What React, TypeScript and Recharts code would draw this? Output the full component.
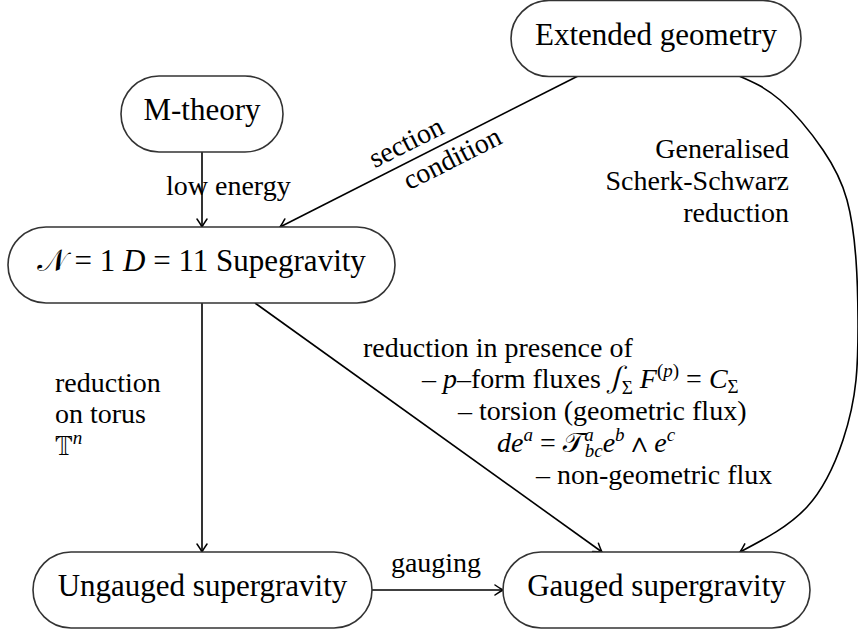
import React from 'react';
import { ComposedChart, XAxis, YAxis, Line, Scatter } from 'recharts';

const W = 858;
const H = 633;
const SERIF = '"Liberation Serif", monospace';
const MATH = '"FreeSerif", monospace';
const INK = '#000';
const BOX_H = 76;

// nodes: centre of each rounded box, page pixels (0,0 top left)
const nodeIds = ['ext', 'mth', 'sugra', 'ungauged', 'gauged'];
const nodeX = [656, 202, 201.5, 202.5, 656.5];
const nodeY = [38.5, 114, 265, 590, 590];
const nodeTitles = ['Extended geometry', 'M-theory', 'Supegravity', 'Ungauged supergravity', 'Gauged supergravity'];

// edges, each from start to end
const edgeLowEnergy = [{ x: 202, y: 152 }, { x: 202, y: 227 }];
const edgeSection = [{ x: 578, y: 76 }, { x: 280, y: 227 }];
const edgeTorus = [{ x: 202, y: 303 }, { x: 202, y: 552 }];
const edgeFlux = [{ x: 255, y: 303 }, { x: 602, y: 552 }];
const edgeGauging = [{ x: 372, y: 590 }, { x: 503, y: 590 }];
const edgeScherk = [
  { x: 739, y: 76 }, { x: 780, y: 100 }, { x: 823, y: 150 }, { x: 847, y: 200 },
  { x: 856, y: 260 }, { x: 858, y: 320 }, { x: 856, y: 380 }, { x: 843, y: 440 },
  { x: 807, y: 507 }, { x: 740, y: 552 },
];

// edge labels
const labelIds = [
  'lowEnergy', 'section', 'condition',
  'gss1', 'gss2', 'gss3',
  'torus1', 'torus2', 'torus3',
  'pres1', 'pres2', 'pres3', 'pres4', 'pres5',
  'gauging',
];
const labelX = [166, 406, 452, 789, 789, 789, 55, 55, 55, 363, 422, 458, 497, 536, 436];
const labelY = [195, 142, 158, 158, 190, 222, 392, 423, 455, 357, 388, 420, 452, 484, 572];

const boxWidth: Record<string, number> = { ext: 290, mth: 162, sugra: 387, ungauged: 339, gauged: 307 };

const labelStyle: Record<string, { anchor: string; rotate?: number }> = {
  lowEnergy: { anchor: 'start' },
  section: { anchor: 'middle', rotate: -26.7 },
  condition: { anchor: 'middle', rotate: -26.7 },
  gss1: { anchor: 'end' },
  gss2: { anchor: 'end' },
  gss3: { anchor: 'end' },
  torus1: { anchor: 'start' },
  torus2: { anchor: 'start' },
  torus3: { anchor: 'start' },
  pres1: { anchor: 'start' },
  pres2: { anchor: 'start' },
  pres3: { anchor: 'start' },
  pres4: { anchor: 'start' },
  pres5: { anchor: 'start' },
  gauging: { anchor: 'middle' },
};

const nodes = nodeIds.map((id, i) => ({ id, x: nodeX[i], y: nodeY[i], title: nodeTitles[i] }));
const labels = labelIds.map((id, i) => ({ id, x: labelX[i], y: labelY[i] }));

const it = { fontStyle: 'italic' as const };
const mathFont = { style: { fontFamily: MATH } };
const SMALL = 19;

const richLabel = (id: string) => {
  switch (id) {
    case 'lowEnergy': return 'low energy';
    case 'section': return 'section';
    case 'condition': return 'condition';
    case 'gss1': return 'Generalised';
    case 'gss2': return 'Scherk-Schwarz';
    case 'gss3': return 'reduction';
    case 'torus1': return 'reduction';
    case 'torus2': return 'on torus';
    case 'torus3':
      return (
        <>
          <tspan {...mathFont}>𝕋</tspan>
          <tspan dy={-11} fontSize={SMALL} {...it}>n</tspan>
        </>
      );
    case 'pres1': return 'reduction in presence of';
    case 'pres2':
      return (
        <>
          <tspan>– </tspan>
          <tspan {...it}>p</tspan>
          <tspan>–form fluxes </tspan>
          <tspan {...mathFont} {...it}>∫</tspan>
          <tspan dy={6} fontSize={SMALL}>Σ</tspan>
          <tspan dy={-6}> </tspan>
          <tspan {...it}>F</tspan>
          <tspan dy={-11} fontSize={SMALL}>(</tspan>
          <tspan fontSize={SMALL} {...it}>p</tspan>
          <tspan fontSize={SMALL}>)</tspan>
          <tspan dy={11}> = </tspan>
          <tspan {...it}>C</tspan>
          <tspan dy={5} fontSize={SMALL}>Σ</tspan>
        </>
      );
    case 'pres3': return '– torsion (geometric flux)';
    case 'pres4':
      return (
        <>
          <tspan {...it}>de</tspan>
          <tspan dy={-11} fontSize={SMALL} {...it}>a</tspan>
          <tspan dy={11}> = </tspan>
          <tspan {...mathFont}>𝒯</tspan>
          <tspan dy={-11} fontSize={SMALL} {...it}>a</tspan>
          <tspan dx={-9} dy={16} fontSize={SMALL} {...it}>bc</tspan>
          <tspan dy={-5} {...it}>e</tspan>
          <tspan dy={-11} fontSize={SMALL} {...it}>b</tspan>
          <tspan dy={11} {...mathFont}> ∧ </tspan>
          <tspan {...it}>e</tspan>
          <tspan dy={-11} fontSize={SMALL} {...it}>c</tspan>
        </>
      );
    case 'pres5': return '– non-geometric flux';
    case 'gauging': return 'gauging';
    default: return '';
  }
};

const nodeText = (id: string, title: string) => {
  if (id !== 'sugra') return title;
  return (
    <>
      <tspan {...mathFont}>𝒩</tspan>
      <tspan> = 1 </tspan>
      <tspan {...it}>D</tspan>
      <tspan> = 11 {title}</tspan>
    </>
  );
};

const NodeShape = (props: any) => {
  const { cx, cy, payload } = props;
  const w = boxWidth[payload.id];
  return (
    <g>
      <rect
        x={cx - w / 2}
        y={cy - BOX_H / 2}
        width={w}
        height={BOX_H}
        rx={BOX_H / 2}
        fill="#fff"
        stroke="#333"
        strokeWidth={1.6}
      />
      <text
        x={cx}
        y={cy + 6}
        textAnchor="middle"
        fontSize={31}
        fill={INK}
        style={{ fontFamily: SERIF }}
        xmlSpace="preserve"
      >
        {nodeText(payload.id, payload.title)}
      </text>
    </g>
  );
};

const LabelShape = (props: any) => {
  const { cx, cy, payload } = props;
  const st = labelStyle[payload.id];
  const rotated = st.rotate !== undefined;
  return (
    <text
      x={cx}
      y={cy}
      textAnchor={st.anchor}
      dominantBaseline={rotated ? 'central' : undefined}
      transform={rotated ? `rotate(${st.rotate}, ${cx}, ${cy})` : undefined}
      fontSize={28}
      fill={INK}
      style={{ fontFamily: SERIF }}
      xmlSpace="preserve"
    >
      {richLabel(payload.id)}
    </text>
  );
};

const edges = [
  { key: 'low', data: edgeLowEnergy, type: 'linear' },
  { key: 'section', data: edgeSection, type: 'linear' },
  { key: 'torus', data: edgeTorus, type: 'linear' },
  { key: 'flux', data: edgeFlux, type: 'linear' },
  { key: 'gauging', data: edgeGauging, type: 'linear' },
  { key: 'scherk', data: edgeScherk, type: 'natural' },
];

export default function App() {
  return (
    <div style={{ position: 'absolute', left: 0, top: 0, width: W, height: H, background: '#fff' }}>
      <ComposedChart width={W} height={H} margin={{ top: 0, right: 0, bottom: 0, left: 0 }}>
        <defs>
          <marker
            id="arrowHead"
            viewBox="-10 -6 12 12"
            refX={0}
            refY={0}
            markerWidth={12}
            markerHeight={12}
            markerUnits="userSpaceOnUse"
            orient="auto"
          >
            <path
              d="M-8,-5 Q-3,-1.5 0,0 Q-3,1.5 -8,5"
              fill="none"
              stroke={INK}
              strokeWidth={1.5}
              strokeLinecap="round"
            />
          </marker>
        </defs>
        <XAxis type="number" dataKey="x" domain={[0, W]} hide />
        <YAxis type="number" dataKey="y" domain={[0, H]} reversed hide />
        {edges.map((e) => (
          <Line
            key={e.key}
            data={e.data}
            dataKey="y"
            type={e.type as any}
            stroke={INK}
            strokeWidth={1.6}
            dot={false}
            activeDot={false}
            isAnimationActive={false}
            markerEnd="url(#arrowHead)"
          />
        ))}
        <Scatter data={nodes} dataKey="y" shape={NodeShape} isAnimationActive={false} />
        <Scatter data={labels} dataKey="y" shape={LabelShape} isAnimationActive={false} />
      </ComposedChart>
    </div>
  );
}
